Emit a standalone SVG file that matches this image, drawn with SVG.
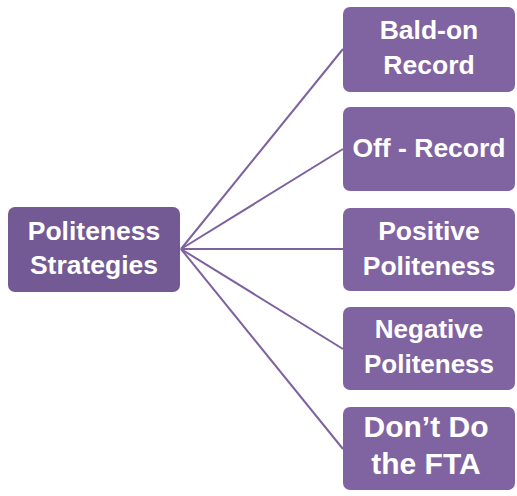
<svg xmlns="http://www.w3.org/2000/svg" width="517" height="496" viewBox="0 0 517 496">
<style>
.box{fill:#8064A2}
.root{fill:#735A94}
.t{font-family:"Liberation Sans",Arial,sans-serif;font-weight:bold;font-size:26.5px;fill:#fff;text-anchor:middle}
.c{stroke:#7D62A0;stroke-width:2;fill:none}
</style>
<rect width="517" height="496" fill="#fff"/>
<g id="connectors">
<line class="c" x1="181" y1="249" x2="343" y2="49"/>
<line class="c" x1="181" y1="249" x2="343" y2="149"/>
<line class="c" x1="181" y1="249" x2="343" y2="249"/>
<line class="c" x1="181" y1="249" x2="343" y2="349"/>
<line class="c" x1="181" y1="249" x2="343" y2="449"/>
</g>
<g id="root">
<rect class="root" x="8" y="207" width="172" height="85" rx="7"/>
<text class="t" x="94" y="240">Politeness</text>
<text class="t" x="94" y="274">Strategies</text>
</g>
<g id="bald">
<rect class="box" x="343" y="7" width="172" height="85" rx="7"/>
<text class="t" x="429" y="39">Bald-on</text>
<text class="t" x="429" y="74">Record</text>
</g>
<g id="off">
<rect class="box" x="343" y="107" width="172" height="84" rx="7"/>
<text class="t" x="429" y="157">Off - Record</text>
</g>
<g id="positive">
<rect class="box" x="343" y="208" width="172" height="83" rx="7"/>
<text class="t" x="429" y="240">Positive</text>
<text class="t" x="429" y="275">Politeness</text>
</g>
<g id="negative">
<rect class="box" x="343" y="307" width="172" height="83" rx="7"/>
<text class="t" x="429" y="338" style="font-size:26px">Negative</text>
<text class="t" x="429" y="373" style="font-size:26px">Politeness</text>
</g>
<g id="dont">
<rect class="box" x="343" y="407" width="172" height="83" rx="7"/>
<text class="t" x="426" y="437" style="font-size:30px">Don’t Do</text>
<text class="t" x="426" y="474" style="font-size:30px">the FTA</text>
</g>
</svg>
